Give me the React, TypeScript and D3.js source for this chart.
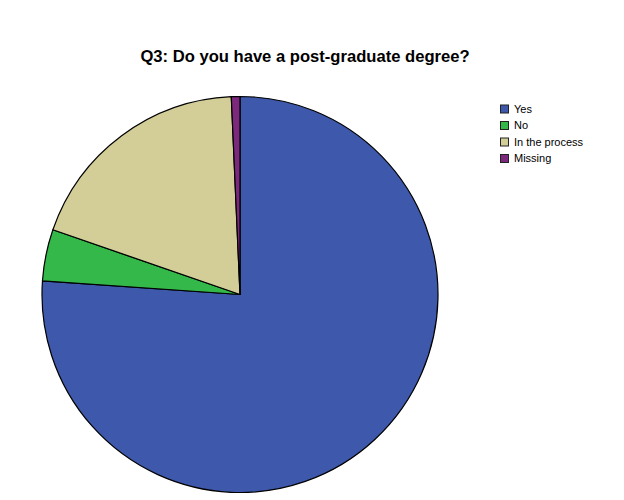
import React, { useEffect, useRef } from 'react';
import * as d3 from 'd3';

// Percentages
const categories = ['Yes', 'No', 'In the process', 'Missing'];
const values = [76.1, 4.2, 19.0, 0.7];
const colors = ['#3e58ac', '#34b84a', '#d3ce98', '#7c287d'];

const title = 'Q3: Do you have a post-graduate degree?';

const App: React.FC = () => {
  const ref = useRef<SVGSVGElement>(null);

  useEffect(() => {
    if (!ref.current) return;
    const width = 624;
    const height = 500;
    const cx = 240;
    const cy = 294.5;
    const radius = 198;

    const svg = d3.select(ref.current);
    svg.selectAll('*').remove();

    svg.append('rect').attr('width', width).attr('height', height).attr('fill', '#fff');

    svg.append('text')
      .attr('x', 305)
      .attr('y', 62)
      .attr('text-anchor', 'middle')
      .attr('font-family', 'Liberation Sans, Arial, sans-serif')
      .attr('font-size', '16.6px')
      .attr('font-weight', 'bold')
      .attr('fill', '#000')
      .text(title);

    const pie = d3.pie<number>().sort(null).value(d => d);
    const arc = d3.arc<d3.PieArcDatum<number>>().innerRadius(0).outerRadius(radius);

    const g = svg.append('g').attr('transform', `translate(${cx},${cy})`);
    g.selectAll('path')
      .data(pie(values))
      .enter()
      .append('path')
      .attr('d', arc)
      .attr('fill', (d, i) => colors[i])
      .attr('stroke', '#000')
      .attr('stroke-width', 1.2)
      .attr('stroke-linejoin', 'round');

    // Legend
    const rowY = d3.scaleLinear().domain([0, 1]).range([109, 125.5]);
    const legend = svg.append('g');
    const items = legend.selectAll('g')
      .data(categories)
      .enter()
      .append('g')
      .attr('transform', (d, i) => `translate(500,${rowY(i)})`);

    items.append('rect')
      .attr('x', 0.5)
      .attr('y', -4)
      .attr('width', 8)
      .attr('height', 8)
      .attr('fill', (d, i) => colors[i])
      .attr('stroke', '#222')
      .attr('stroke-width', 1);

    items.append('text')
      .attr('x', 14)
      .attr('y', 0)
      .attr('dy', '0.35em')
      .attr('font-family', 'Liberation Sans, Arial, sans-serif')
      .attr('font-size', '11px')
      .attr('fill', '#000')
      .text(d => d);
  }, []);

  return (
    <svg
      ref={ref}
      width={624}
      height={500}
      style={{ position: 'absolute', left: 0, top: 0 }}
    />
  );
};

export default App;
